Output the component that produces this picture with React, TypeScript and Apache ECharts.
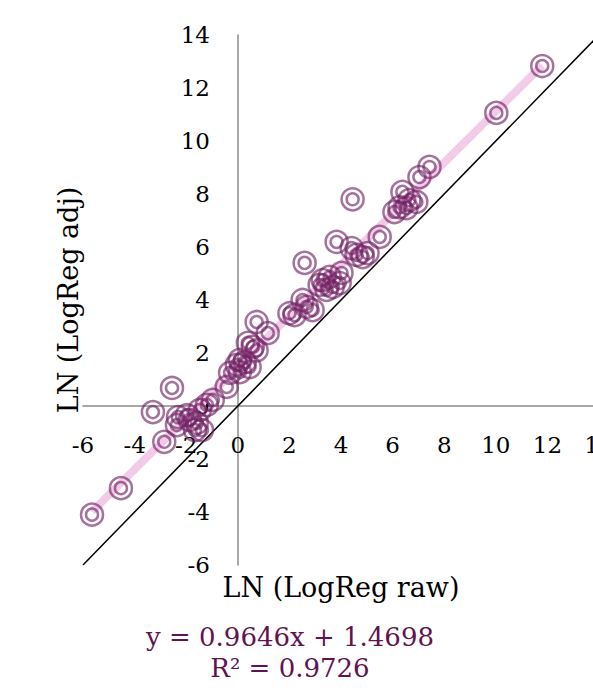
import React, { useEffect, useRef } from "react";
import * as echarts from "echarts";

const xTicks = [-6, 14];
const yTicks = [-6, 14];
const tickStep = 2;

const rawLN = [
  -5.65, -4.53, -2.85, -3.29, -2.55, -2.32, -2.36, -1.97, -1.86, -1.59, -1.66, -1.39, -1.47, -1.2, -0.97,
  -0.43, -0.3, 0.08, 0.46, -0.04, 0.27, 0.08, 0.58, 0.39, 0.73, 1.16, 0.73, 2.0, 2.2, 2.51, 2.67, 2.9,
  3.17, 3.29, 3.44, 3.56, 3.68, 3.95, 4.02, 2.59, 3.83, 4.41, 4.6, 4.84, 5.03, 4.45, 5.5, 6.07, 6.27,
  6.54, 6.38, 6.65, 6.92, 7.04, 7.43, 10.02, 11.8,
];
const adjLN = [
  -4.1, -3.1, -1.35, -0.23, 0.68, -0.42, -0.72, -0.34, -0.53, -0.64, -0.91, -0.91, -0.15, 0.04, 0.23,
  0.72, 1.25, 1.28, 1.47, 1.55, 1.66, 1.74, 2.23, 2.38, 2.1, 2.75, 3.17, 3.5, 3.43, 4.0, 3.74, 3.62,
  4.57, 4.75, 4.38, 4.87, 4.49, 4.64, 5.02, 5.4, 6.19, 5.96, 5.7, 5.62, 5.77, 7.8, 6.38, 7.32, 7.5,
  7.47, 8.08, 7.77, 7.7, 8.64, 9.02, 11.06, 12.83,
];

const slope = 0.9646;
const intercept = 1.4698;
const r2 = 0.9726;

const equationText = `y = ${slope}x + ${intercept}`;
const r2Text = `R² = ${r2}`;

const App: React.FC = () => {
  const ref = useRef<HTMLDivElement>(null);

  useEffect(() => {
    if (!ref.current) return;
    const chart = echarts.init(ref.current, undefined, { renderer: "svg" });
    const points = rawLN.map((x, i) => [x, adjLN[i]]);
    const xMin = Math.min(...rawLN);
    const xMax = Math.max(...rawLN);
    const trend = [
      [xMin, slope * xMin + intercept],
      [xMax, slope * xMax + intercept],
    ];
    const identity = [
      [xTicks[0], xTicks[0]],
      [xTicks[1], xTicks[1]],
    ];
    const font = "DejaVu Serif";
    const ringColor = "rgba(114,34,100,0.8)";

    chart.setOption({
      animation: false,
      backgroundColor: "#ffffff",
      grid: { left: 83, right: -6, top: 35, bottom: 123, containLabel: false, outerBoundsMode: "none" },
      xAxis: {
        type: "value",
        position: "bottom",
        offset: -159,
        min: xTicks[0],
        max: xTicks[1],
        interval: tickStep,
        name: "LN (LogReg raw)",
        nameLocation: "middle",
        nameGap: 168,
        nameTextStyle: { fontFamily: font, fontSize: 27, color: "#000" },
        axisLine: { onZero: false, lineStyle: { color: "#8c8c8c", width: 1.5 } },
        axisTick: { show: false },
        splitLine: { show: false },
        axisLabel: { fontFamily: font, fontSize: 23, color: "#000", margin: 27 },
      },
      yAxis: {
        type: "value",
        position: "left",
        offset: -155,
        min: yTicks[0],
        max: yTicks[1],
        interval: tickStep,
        name: "LN (LogReg adj)",
        nameLocation: "middle",
        nameGap: 156,
        nameTextStyle: { fontFamily: font, fontSize: 27, color: "#000" },
        axisLine: { onZero: false, lineStyle: { color: "#8c8c8c", width: 1.5 } },
        axisTick: { show: false },
        splitLine: { show: false },
        axisLabel: { fontFamily: font, fontSize: 23, color: "#000", margin: 28 },
      },
      series: [
        {
          type: "line",
          data: identity,
          symbol: "none",
          lineStyle: { color: "#000", width: 1.5 },
          z: 1,
        },
        {
          type: "line",
          data: trend,
          symbol: "none",
          lineStyle: { color: "#f2cbe8", width: 8 },
          z: 2,
        },
        {
          type: "scatter",
          data: points,
          symbol: "circle",
          symbolSize: 22,
          itemStyle: { color: "transparent", borderColor: ringColor, borderWidth: 2.5 },
          z: 3,
        },
        {
          type: "scatter",
          data: points,
          symbol: "circle",
          symbolSize: 12,
          itemStyle: { color: "transparent", borderColor: ringColor, borderWidth: 2.5 },
          z: 3,
        },
      ],
      graphic: [
        {
          type: "text",
          x: 290,
          y: 637,
          style: {
            text: equationText,
            fontFamily: font,
            fontSize: 26,
            fill: "#61124f",
            textAlign: "center",
            textVerticalAlign: "middle",
          },
        },
        {
          type: "text",
          x: 290,
          y: 668,
          style: {
            text: r2Text,
            fontFamily: font,
            fontSize: 26,
            fill: "#61124f",
            textAlign: "center",
            textVerticalAlign: "middle",
          },
        },
      ],
    });
    return () => chart.dispose();
  }, []);

  return (
    <div
      ref={ref}
      style={{ position: "absolute", left: 0, top: 0, width: 593, height: 688 }}
    />
  );
};

export default App;
